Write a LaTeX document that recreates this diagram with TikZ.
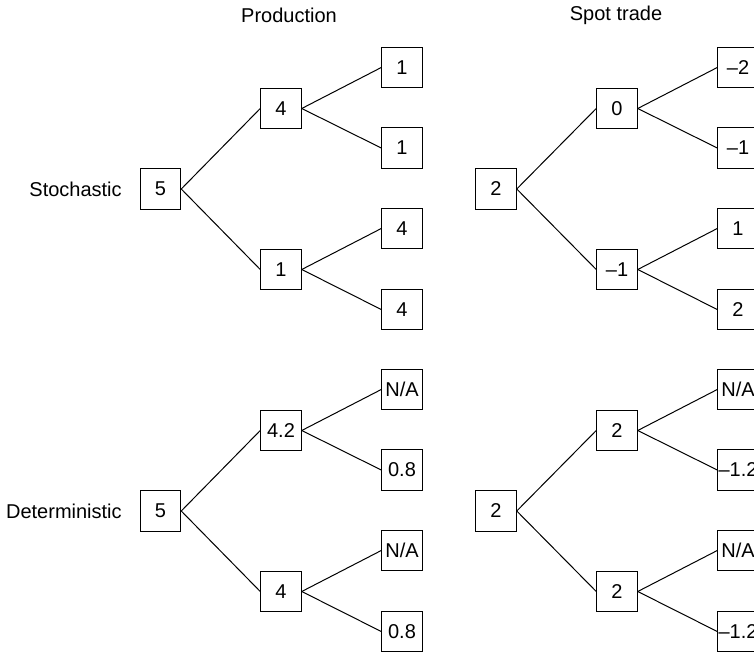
\documentclass[tikz,border=0pt]{standalone}
\usepackage{fontspec}
\setmainfont{Liberation Sans}
\usetikzlibrary{positioning}

\begin{document}
\begin{tikzpicture}[x=0.5pt,y=-0.5pt,
    caja/.style={draw,line width=0.5pt,minimum size=20.25pt,inner sep=0pt,font=\fontsize{10}{12}\selectfont},
    rama/.style={line width=0.5pt},
    rotulo/.style={font=\fontsize{10}{12}\selectfont}]
        \clip (0,0) rectangle (754,652);
        % titulos
        \node[rotulo] (tp) at (289,15) {Production};
        \node[rotulo] (ts) at (616,15) {Spot trade};
        % produccion, estocastico
        \node[caja] (pa) at (160.5,189) {5};
        \node[caja] (pb) at (281,108.5) {4};
        \node[caja] (pc) at (281,269.5) {1};
        \node[caja] (pd) at (402,67.5) {1};
        \node[caja] (pe) at (402,148) {1};
        \node[caja] (pf) at (402,228.5) {4};
        \node[caja] (pg) at (402,309.5) {4};
        \node[rotulo,left=5.5pt of pa] (le) {Stochastic};
        \draw[rama] (pa.east) -- (pb.west);
        \draw[rama] (pa.east) -- (pc.west);
        \draw[rama] (pb.east) -- (pd.west);
        \draw[rama] (pb.east) -- (pe.west);
        \draw[rama] (pc.east) -- (pf.west);
        \draw[rama] (pc.east) -- (pg.west);
        % spot, estocastico
        \node[caja] (sa) at (496,189) {2};
        \node[caja] (sb) at (617,108.5) {0};
        \node[caja] (sc) at (617,269.5) {–1};
        \node[caja] (sd) at (738,67.5) {–2};
        \node[caja] (se) at (738,148) {–1};
        \node[caja] (sf) at (738,228.5) {1};
        \node[caja] (sg) at (738,309.5) {2};
        \draw[rama] (sa.east) -- (sb.west);
        \draw[rama] (sa.east) -- (sc.west);
        \draw[rama] (sb.east) -- (sd.west);
        \draw[rama] (sb.east) -- (se.west);
        \draw[rama] (sc.east) -- (sf.west);
        \draw[rama] (sc.east) -- (sg.west);
        % produccion, determinista
        \node[caja] (qa) at (160.5,511) {5};
        \node[caja] (qb) at (281,430.5) {4.2};
        \node[caja] (qc) at (281,591.5) {4};
        \node[caja] (qd) at (402,389.5) {N/A};
        \node[caja] (qe) at (402,470) {0.8};
        \node[caja] (qf) at (402,550.5) {N/A};
        \node[caja] (qg) at (402,631.5) {0.8};
        \node[rotulo,left=5.5pt of qa] (ld) {Deterministic};
        \draw[rama] (qa.east) -- (qb.west);
        \draw[rama] (qa.east) -- (qc.west);
        \draw[rama] (qb.east) -- (qd.west);
        \draw[rama] (qb.east) -- (qe.west);
        \draw[rama] (qc.east) -- (qf.west);
        \draw[rama] (qc.east) -- (qg.west);
        % spot, determinista
        \node[caja] (ra) at (496,511) {2};
        \node[caja] (rb) at (617,430.5) {2};
        \node[caja] (rc) at (617,591.5) {2};
        \node[caja] (rd) at (738,389.5) {N/A};
        \node[caja] (re) at (738,470) {–1.2};
        \node[caja] (rf) at (738,550.5) {N/A};
        \node[caja] (rg) at (738,631.5) {–1.2};
        \draw[rama] (ra.east) -- (rb.west);
        \draw[rama] (ra.east) -- (rc.west);
        \draw[rama] (rb.east) -- (rd.west);
        \draw[rama] (rb.east) -- (re.west);
        \draw[rama] (rc.east) -- (rf.west);
        \draw[rama] (rc.east) -- (rg.west);
      \end{tikzpicture}
\end{document}
